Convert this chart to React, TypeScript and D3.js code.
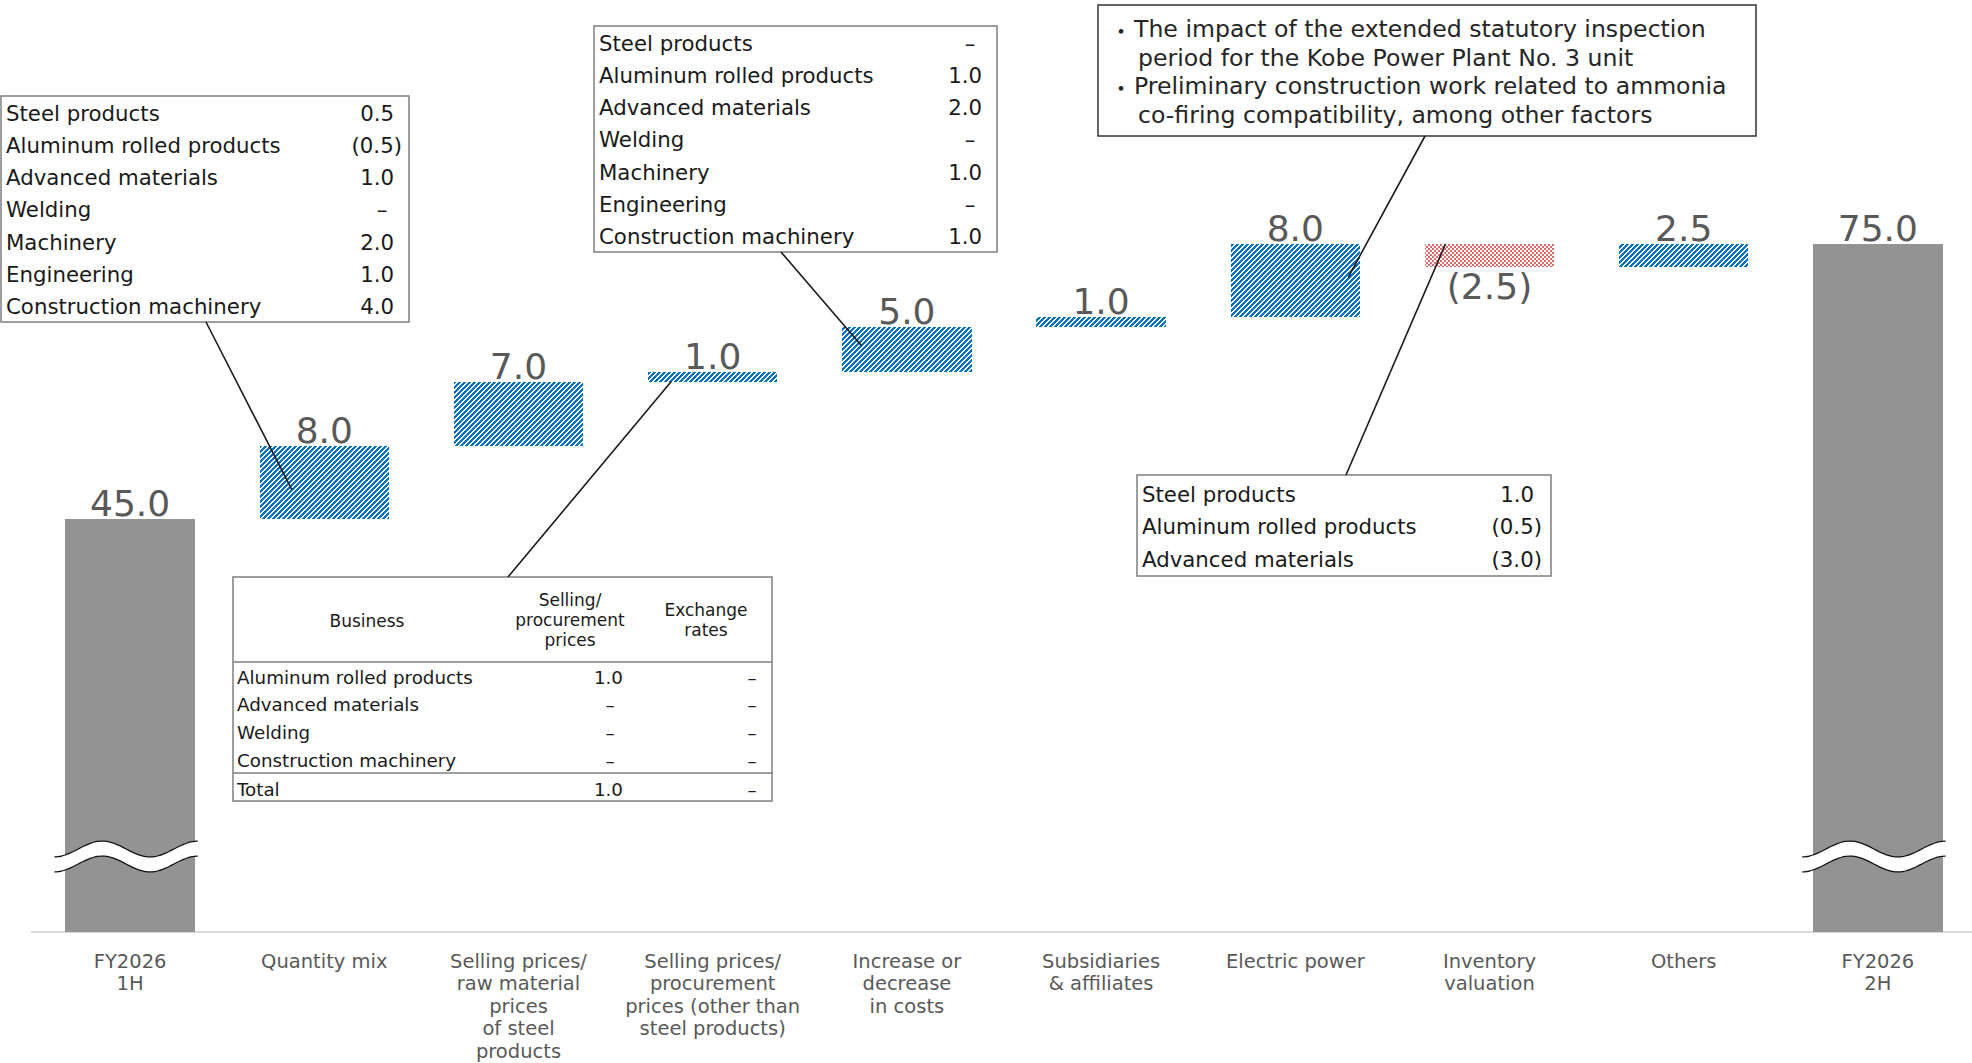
import React from "react";
import * as d3 from "d3";

// Waterfall categories (multi-line axis labels)
const categories: string[][] = [
  ["FY2026", "1H"],
  ["Quantity mix"],
  ["Selling prices/", "raw material", "prices", "of steel", "products"],
  ["Selling prices/", "procurement", "prices (other than", "steel products)"],
  ["Increase or", "decrease", "in costs"],
  ["Subsidiaries", "& affiliates"],
  ["Electric power"],
  ["Inventory", "valuation"],
  ["Others"],
  ["FY2026", "2H"],
];

// Period totals and changes (billion yen)
const values = [45.0, 8.0, 7.0, 1.0, 5.0, 1.0, 8.0, -2.5, 2.5, 75.0];
const isTotal = [true, false, false, false, false, false, false, false, false, true];

// Breakdown: quantity mix by business
const segmentNames = [
  "Steel products",
  "Aluminum rolled products",
  "Advanced materials",
  "Welding",
  "Machinery",
  "Engineering",
  "Construction machinery",
];
const quantityMixValues = ["0.5", "(0.5)", "1.0", "–", "2.0", "1.0", "4.0"];
const costValues = ["–", "1.0", "2.0", "–", "1.0", "–", "1.0"];

// Breakdown: inventory valuation
const inventoryNames = ["Steel products", "Aluminum rolled products", "Advanced materials"];
const inventoryValues = ["1.0", "(0.5)", "(3.0)"];

// Breakdown: selling/procurement prices other than steel products
const priceBusinesses = ["Aluminum rolled products", "Advanced materials", "Welding", "Construction machinery"];
const priceSelling = ["1.0", "–", "–", "–"];
const priceExchange = ["–", "–", "–", "–"];
const priceTotal = ["1.0", "–"];

// Electric power notes
const powerNotes: string[][] = [
  ["The impact of the extended statutory inspection", "period for the Kobe Power Plant No. 3 unit"],
  ["Preliminary construction work related to ammonia", "co-firing compatibility, among other factors"],
];

const FONT = "'DejaVu Sans', 'Noto Sans', sans-serif";
const GRAY_TEXT = "#595959";
const BLUE = "#0070c0";
const RED = "#e06a6a";
const TOTAL_GRAY = "#939393";

function fmt(v: number) {
  return v < 0 ? `(${Math.abs(v).toFixed(1)})` : v.toFixed(1);
}

// Value cell: digits right-aligned, closing parenthesis hangs past the column, dashes sit centred
function Cell({ x, y, v, size, paren = 8, dash = 12 }: { x: number; y: number; v: string; size: number; paren?: number; dash?: number }) {
  if (v === "–") {
    return (
      <text x={x - dash} y={y} textAnchor="middle" dominantBaseline="central" fontSize={size}>
        {v}
      </text>
    );
  }
  const dx = v.startsWith("(") ? paren : 0;
  return (
    <text x={x + dx} y={y} textAnchor="end" dominantBaseline="central" fontSize={size}>
      {v}
    </text>
  );
}

function ListBox({
  x0, y0, w, h, names, vals, rowStart, rowStep, valueX, size,
}: {
  x0: number; y0: number; w: number; h: number; names: string[]; vals: string[];
  rowStart: number; rowStep: number; valueX: number; size: number;
}) {
  return (
    <g fill="#1a1a1a" fontFamily={FONT}>
      <rect x={x0} y={y0} width={w} height={h} fill="#fff" stroke="#7f7f7f" strokeWidth={1.5} />
      {names.map((n, i) => (
        <g key={n}>
          <text x={x0 + 5} y={y0 + rowStart + i * rowStep} dominantBaseline="central" fontSize={size}>
            {n}
          </text>
          <Cell x={valueX} y={y0 + rowStart + i * rowStep} v={vals[i]} size={size} />
        </g>
      ))}
    </g>
  );
}

export default function App() {
  const W = 1972;
  const H = 1063;

  const ids = categories.map((_, i) => String(i));
  const x = d3.scaleBand<string>().domain(ids).range([33, 1975]).paddingInner(1 / 3).paddingOuter(1 / 6);
  const y = d3.scaleLinear().domain([0, 75]).range([932, 244]);
  const bw = x.bandwidth();

  // running sum for the floating bars
  let run = 0;
  const bars = values.map((v, i) => {
    if (isTotal[i]) {
      run = v;
      return { i, lo: 0, hi: v, v, kind: "total" };
    }
    const start = run;
    run += v;
    return { i, lo: Math.min(start, run), hi: Math.max(start, run), v, kind: v >= 0 ? "up" : "down" };
  });

  const bx = (i: number) => x(String(i)) as number;
  const pt = (i: number, fx: number, fy: number) => {
    const b = bars[i];
    return [bx(i) + fx * bw, y(b.hi) + fy * (y(b.lo) - y(b.hi))];
  };

  // callout leaders: [box end, bar index, position within bar]
  const leaders: [number, number, number, number, number][] = [
    [206, 322, 1, 0.25, 0.6],
    [781, 252, 4, 0.15, 0.42],
    [1425, 136, 6, 0.91, 0.45],
    [508, 577, 3, 0.18, 1],
    [1346, 475, 7, 0.16, 0],
  ];

  // axis-break wave across the total bars
  const breakPath = (i: number) => {
    const x0 = bx(i) - 11;
    const x1 = bx(i) + bw + 3;
    const mid = 849;
    const amp = 8;
    const thick = 15;
    const n = 40;
    const top: [number, number][] = d3.range(n + 1).map((k) => {
      const t = k / n;
      return [x0 + t * (x1 - x0), mid - amp * Math.cos(3 * Math.PI * (t - 1 / 3))];
    });
    const bot = top.map(([px, py]) => [px, py + thick] as [number, number]);
    const line = d3.line().curve(d3.curveBasis);
    const area = d3.area().x((d) => d[0]).y0((d) => d[1]).y1((d) => d[1] + thick).curve(d3.curveBasis);
    return { fill: area(top) as string, top: line(top) as string, bot: line(bot) as string };
  };

  // pixel tile for the upward diagonal hatch: 5px period, 3px of blue per row
  const P = 5;
  const stripeCells: [number, number][] = [];
  for (let r = 0; r < P; r++) {
    for (let k = 0; k < 3; k++) stripeCells.push([(((k - r) % P) + P) % P, r]);
  }

  const tX0 = 233;
  const tY0 = 577;
  const tW = 539;
  const tH = 224;
  const tFont = 18.3;
  const boxFont = 21.3;

  return (
    <svg
      width={W}
      height={H}
      viewBox={`0 0 ${W} ${H}`}
      style={{ position: "absolute", left: 0, top: 0, background: "#fff" }}
    >
      <defs>
        <pattern id="hatchUp" patternUnits="userSpaceOnUse" width={P} height={P}>
          <rect width={P} height={P} fill="#fff" />
          {stripeCells.map(([cx, cy], k) => (
            <rect key={k} x={cx} y={cy} width={1} height={1} fill={BLUE} shapeRendering="crispEdges" />
          ))}
        </pattern>
        <pattern id="checkDown" patternUnits="userSpaceOnUse" width={4} height={4}>
          <rect width={4} height={4} fill="#fff" />
          <rect x={0} y={0} width={2} height={2} fill={RED} shapeRendering="crispEdges" />
          <rect x={2} y={2} width={2} height={2} fill={RED} shapeRendering="crispEdges" />
        </pattern>
      </defs>

      {/* baseline */}
      <line x1={31} x2={W} y1={932} y2={932} stroke="#d9d9d9" strokeWidth={2} />

      {/* bars */}
      {bars.map((b) => (
        <rect
          key={b.i}
          x={bx(b.i)}
          y={y(b.hi)}
          width={bw}
          height={y(b.lo) - y(b.hi)}
          fill={b.kind === "total" ? TOTAL_GRAY : b.kind === "up" ? "url(#hatchUp)" : "url(#checkDown)"}
          shapeRendering="crispEdges"
        />
      ))}

      {/* axis breaks */}
      {bars
        .filter((b) => b.kind === "total")
        .map((b) => {
          const p = breakPath(b.i);
          return (
            <g key={`brk${b.i}`}>
              <path d={p.fill} fill="#fff" />
              <path d={p.top} fill="none" stroke="#111" strokeWidth={1.2} />
              <path d={p.bot} fill="none" stroke="#111" strokeWidth={1.2} />
            </g>
          );
        })}

      {/* value labels */}
      {bars.map((b) => (
        <text
          key={`v${b.i}`}
          x={bx(b.i) + bw / 2}
          y={b.kind === "down" ? y(b.lo) + 32 : y(b.hi) - 3}
          textAnchor="middle"
          fontFamily={FONT}
          fontSize={36}
          fill={GRAY_TEXT}
        >
          {fmt(b.v)}
        </text>
      ))}

      {/* category labels */}
      {categories.map((lines, i) => (
        <text key={`c${i}`} fontFamily={FONT} fontSize={19.5} fill={GRAY_TEXT} textAnchor="middle">
          {lines.map((ln, k) => (
            <tspan key={k} x={bx(i) + bw / 2} y={961 + k * 22.5} dominantBaseline="central">
              {ln}
            </tspan>
          ))}
        </text>
      ))}

      {/* quantity mix breakdown */}
      <ListBox x0={1} y0={96} w={408} h={226} names={segmentNames} vals={quantityMixValues}
        rowStart={17} rowStep={32.3} valueX={394} size={boxFont} />

      {/* cost breakdown */}
      <ListBox x0={594} y0={26} w={403} h={226} names={segmentNames} vals={costValues}
        rowStart={17} rowStep={32.3} valueX={982} size={boxFont} />

      {/* inventory valuation breakdown */}
      <ListBox x0={1137} y0={475} w={414} h={101} names={inventoryNames} vals={inventoryValues}
        rowStart={19} rowStep={32.7} valueX={1534} size={boxFont} />

      {/* electric power notes */}
      <g fontFamily={FONT} fontSize={23.6} fill="#262626">
        <rect x={1098} y={5} width={658} height={131} fill="#fff" stroke="#333" strokeWidth={1.5} />
        {powerNotes.map((note, k) => (
          <g key={k}>
            <text x={1121} y={29 + k * 57} textAnchor="middle" dominantBaseline="central"
              fontFamily="'Noto Sans CJK JP', sans-serif" fontSize={22}>
              ・
            </text>
            {note.map((ln, j) => (
              <text key={j} x={j === 0 ? 1134 : 1138} y={29 + k * 57 + j * 28.5} dominantBaseline="central">
                {ln}
              </text>
            ))}
          </g>
        ))}
      </g>

      {/* selling/procurement price table */}
      <g fontFamily={FONT} fill="#1a1a1a" fontSize={tFont}>
        <rect x={tX0} y={tY0} width={tW} height={tH} fill="#fff" stroke="#7f7f7f" strokeWidth={1.5} />
        <line x1={tX0} x2={tX0 + tW} y1={662} y2={662} stroke="#7f7f7f" strokeWidth={1.5} />
        <line x1={tX0} x2={tX0 + tW} y1={773} y2={773} stroke="#7f7f7f" strokeWidth={1.5} />
        <text x={367} y={621} textAnchor="middle" dominantBaseline="central" fontSize={17}>Business</text>
        <text x={570} textAnchor="middle" fontSize={17}>
          {["Selling/", "procurement", "prices"].map((ln, k) => (
            <tspan key={k} x={570} y={600 + k * 20} dominantBaseline="central">{ln}</tspan>
          ))}
        </text>
        <text x={706} textAnchor="middle" fontSize={17}>
          {["Exchange", "rates"].map((ln, k) => (
            <tspan key={k} x={706} y={610 + k * 20} dominantBaseline="central">{ln}</tspan>
          ))}
        </text>
        {priceBusinesses.map((n, i) => {
          const yy = 677 + i * 27.8;
          return (
            <g key={n}>
              <text x={237} y={yy} dominantBaseline="central">{n}</text>
              <Cell x={623} y={yy} v={priceSelling[i]} size={tFont} dash={13} />
              <Cell x={759} y={yy} v={priceExchange[i]} size={tFont} dash={7} />
            </g>
          );
        })}
        <text x={237} y={789} dominantBaseline="central">Total</text>
        <Cell x={623} y={789} v={priceTotal[0]} size={tFont} dash={13} />
        <Cell x={759} y={789} v={priceTotal[1]} size={tFont} dash={7} />
      </g>

      {/* leader lines */}
      {leaders.map(([x1, y1, i, fx, fy], k) => {
        const [x2, y2] = pt(i, fx, fy);
        return <line key={`l${k}`} x1={x1} y1={y1} x2={x2} y2={y2} stroke="#1a1a1a" strokeWidth={1.6} />;
      })}
    </svg>
  );
}
